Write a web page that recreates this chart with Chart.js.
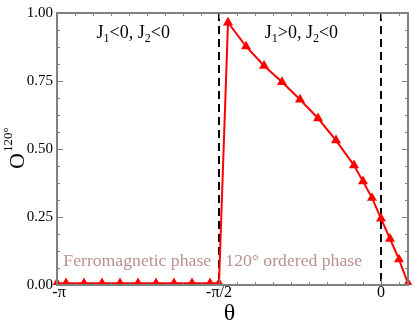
<!DOCTYPE html>
<html>
<head>
<meta charset="utf-8">
<script src="https://cdn.jsdelivr.net/npm/chart.js@4.4.1/dist/chart.umd.min.js"></script>
<style>
  html, body { margin: 0; padding: 0; background: #fff; overflow: hidden; }
  #c { display: block; }
</style>
</head>
<body>
<canvas id="c" width="415" height="321" style="width:415px;height:321px"></canvas>
<script>
// ---- data (theta in degrees, order parameter O^120°) ----
const thetaDeg = [-180, -175, -165, -155, -145, -135, -125, -115, -105, -95, -90,
                  -85, -75, -65, -55, -45, -35, -25, -15, -10, -5, 0, 5, 10, 15];
const orderParam = [0.006, 0.006, 0.006, 0.006, 0.006, 0.006, 0.006, 0.006, 0.006, 0.006, 0.006,
                    0.965, 0.877, 0.806, 0.746, 0.682, 0.613, 0.532, 0.440, 0.381, 0.320, 0.244, 0.170, 0.094, 0.006];
const xTickValues = [-180, -90, 0];
const xTickLabels = [' -\u03c0', '-\u03c0/2', '0'];
const yTickValues = [0, 0.25, 0.5, 0.75, 1.0];
const phaseBoundaries = [-90, 0];

const SERIF = '"Liberation Serif", "DejaVu Serif", serif';
const points = thetaDeg.map((t, i) => ({ x: t, y: orderParam[i] }));

const framePlugin = {
  id: 'frame',
  beforeDatasetsDraw(chart) {
    const { ctx, chartArea: a, scales: { x } } = chart;
    ctx.save();
    ctx.strokeStyle = '#000';
    ctx.lineWidth = 2;
    ctx.setLineDash([8, 5]);
    phaseBoundaries.forEach(v => {
      const px = Math.round(x.getPixelForValue(v));
      ctx.beginPath();
      ctx.moveTo(px, a.top);
      ctx.lineTo(px, a.bottom);
      ctx.stroke();
    });
    ctx.restore();
  },
  afterDraw(chart) {
    const { ctx, chartArea: a, scales: { x, y } } = chart;
    ctx.save();
    ctx.strokeStyle = '#808080';
    ctx.lineWidth = 2;
    ctx.strokeRect(a.left, a.top, a.right - a.left, a.bottom - a.top);
    ctx.lineWidth = 1;
    ctx.beginPath();
    for (let v = -180; v <= 15; v += 10) {
      const px = Math.round(x.getPixelForValue(v)) + 0.5;
      const len = xTickValues.includes(v) ? 6 : 3;
      ctx.moveTo(px, a.bottom); ctx.lineTo(px, a.bottom - len);
      ctx.moveTo(px, a.top); ctx.lineTo(px, a.top + len);
    }
    for (let k = 0; k <= 16; k++) {
      const v = k * 0.0625;
      const py = Math.round(y.getPixelForValue(v)) + 0.5;
      const len = (k % 4 === 0) ? 6 : 3;
      ctx.moveTo(a.left, py); ctx.lineTo(a.left + len, py);
      ctx.moveTo(a.right, py); ctx.lineTo(a.right - len, py);
    }
    ctx.stroke();

    ctx.fillStyle = '#000';
    ctx.textBaseline = 'alphabetic';
    ctx.textAlign = 'left';
    function jLabel(xv, yv, s1, s2) {
      let px = x.getPixelForValue(xv);
      const py = y.getPixelForValue(yv);
      const seq = [['J', 18, 0], ['1', 12, 4], [s1 + ', J', 18, 0], ['2', 12, 4], [s2, 18, 0]];
      seq.forEach(([t, f, dy]) => {
        ctx.font = f + 'px ' + SERIF;
        ctx.fillText(t, px, py + dy);
        px += ctx.measureText(t).width;
      });
    }
    jLabel(-158, 0.907, '<0', '<0');
    jLabel(-64.6, 0.907, '>0', '<0');

    ctx.fillStyle = '#bc8f8f';
    ctx.font = '17.7px ' + SERIF;
    ctx.fillText('Ferromagnetic phase', x.getPixelForValue(-176.5), y.getPixelForValue(0.071));
    ctx.fillText('120\u00b0 ordered phase', x.getPixelForValue(-86.5), y.getPixelForValue(0.071));

    ctx.fillStyle = '#000';
    ctx.font = '24px ' + SERIF;
    ctx.textAlign = 'center';
    ctx.fillText('\u03b8', (a.left + a.right) / 2 - 3, 320);

    ctx.save();
    const cy = (a.top + a.bottom) / 2;
    ctx.translate(24, cy + 20);
    ctx.rotate(-Math.PI / 2);
    ctx.textAlign = 'left';
    ctx.font = '22px ' + SERIF;
    ctx.fillText('O', 0, 0);
    const w = ctx.measureText('O').width;
    ctx.font = '13px ' + SERIF;
    ctx.fillText('120\u00b0', w + 1, -12);
    ctx.restore();

    ctx.restore();
  }
};

new Chart(document.getElementById('c'), {
  type: 'line',
  data: {
    datasets: [{
      data: points,
      borderColor: '#ff0000',
      backgroundColor: '#ff0000',
      borderWidth: 2,
      pointStyle: 'triangle',
      pointRadius: 5.8,
      pointHoverRadius: 5.8,
      pointBackgroundColor: '#ff0000',
      pointBorderColor: '#ff0000',
      pointBorderWidth: 0,
      tension: 0,
      clip: { left: false, top: false, right: false, bottom: 0 }
    }]
  },
  options: {
    responsive: false,
    animation: false,
    devicePixelRatio: 1,
    layout: { padding: { top: 6, right: 7, left: 0, bottom: 0 } },
    plugins: { legend: { display: false }, tooltip: { enabled: false } },
    scales: {
      x: {
        type: 'linear',
        min: -180, max: 15,
        afterBuildTicks(s) { s.ticks = xTickValues.map(v => ({ value: v })); },
        afterFit(s) { s.height = 36; },
        grid: { display: false, drawTicks: false },
        border: { display: false },
        ticks: {
          autoSkip: false, maxRotation: 0, padding: -2, color: '#000',
          font: { family: SERIF, size: 16 },
          callback(v) { const i = xTickValues.indexOf(v); return i >= 0 ? xTickLabels[i] : ''; }
        }
      },
      y: {
        min: 0, max: 1,
        afterBuildTicks(s) { s.ticks = yTickValues.map(v => ({ value: v })); },
        afterFit(s) { s.width = 57; },
        grid: { display: false, drawTicks: false },
        border: { display: false },
        ticks: {
          padding: 4, color: '#000',
          font: { family: SERIF, size: 15 },
          callback(v) { return Number(v).toFixed(2); }
        }
      }
    }
  },
  plugins: [framePlugin]
});
</script>
</body>
</html>
